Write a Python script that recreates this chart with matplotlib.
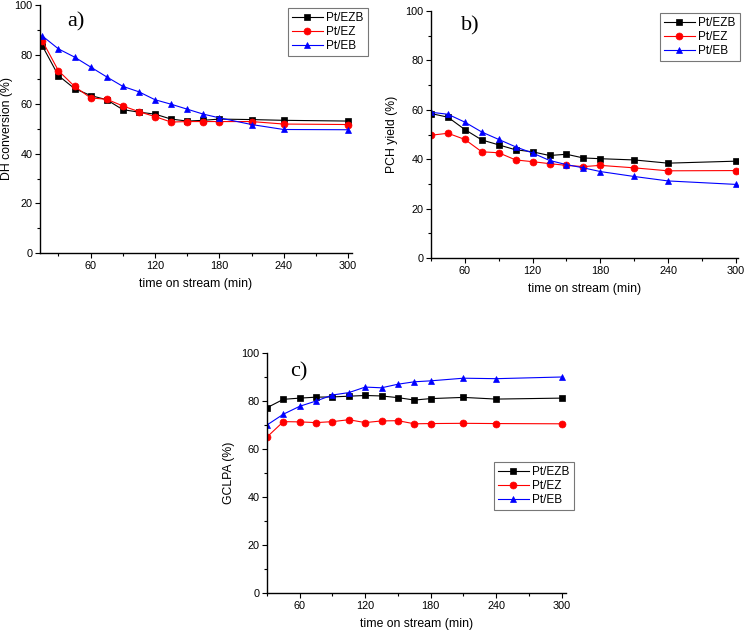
import matplotlib
matplotlib.use("Agg")
import matplotlib.pyplot as plt
from matplotlib.ticker import MultipleLocator

plt.rcParams['font.family'] = ['Liberation Sans', 'DejaVu Sans']

series_names = ["Pt/EZB", "Pt/EZ", "Pt/EB"]

# Panel a) DH conversion (%)
time_a = [15, 30, 45, 60, 75, 90, 105, 120, 135, 150, 165, 180, 210, 240, 300]
dh_ezb = [83.5, 71.5, 66.3, 63.5, 61.8, 57.8, 56.8, 56.0, 54.0, 53.2, 53.5, 54.0, 53.8, 53.5, 53.2]
dh_ez = [85.5, 73.5, 67.2, 62.5, 62.0, 59.3, 57.0, 55.0, 52.8, 53.0, 53.0, 53.0, 53.0, 52.0, 51.8]
dh_eb = [87.5, 82.3, 79.0, 75.0, 71.0, 67.2, 65.0, 61.8, 60.0, 58.0, 56.0, 54.5, 51.8, 49.8, 49.7]

# Panel b) PCH yield (%)
time_b = [30, 45, 60, 75, 90, 105, 120, 135, 150, 165, 180, 210, 240, 300]
pch_ezb = [58.5, 57.0, 52.0, 47.8, 45.8, 43.8, 43.0, 41.5, 42.0, 40.5, 40.2, 39.7, 38.4, 39.2]
pch_ez = [49.7, 50.5, 48.0, 43.0, 42.6, 39.7, 39.0, 38.2, 37.5, 37.0, 37.5, 36.5, 35.3, 35.4]
pch_eb = [59.0, 58.2, 55.0, 51.0, 48.0, 45.0, 42.5, 39.5, 37.8, 36.5, 35.0, 33.0, 31.2, 29.8]

# Panel c) GCLPA (%)
time_c = [30, 45, 60, 75, 90, 105, 120, 135, 150, 165, 180, 210, 240, 300]
gc_ezb = [77.2, 80.7, 81.2, 81.6, 81.7, 82.0, 82.3, 82.1, 81.4, 80.4, 81.0, 81.5, 80.8, 81.2]
gc_ez = [65.0, 71.4, 71.3, 71.0, 71.4, 72.2, 71.0, 71.7, 71.8, 70.5, 70.6, 70.7, 70.6, 70.5]
gc_eb = [70.0, 74.5, 77.8, 80.0, 82.5, 83.5, 85.8, 85.5, 87.0, 88.0, 88.4, 89.5, 89.3, 90.0]

colors = ["black", "#ff0000", "#0000ff"]
markers = ["s", "o", "^"]

W, H = 746, 630
fig = plt.figure(figsize=(W / 100, H / 100), dpi=100)


def px_axes(left, top, right, bottom):
    return fig.add_axes([left / W, 1 - bottom / H, (right - left) / W, (bottom - top) / H])


def style(ax, xlim, ylabel, ylab_x):
    ax.set_xlim(*xlim)
    ax.set_ylim(0, 100)
    ax.xaxis.set_major_locator(MultipleLocator(60))
    ax.xaxis.set_minor_locator(MultipleLocator(30))
    ax.yaxis.set_major_locator(MultipleLocator(20))
    ax.yaxis.set_minor_locator(MultipleLocator(10))
    for s in ["top", "right"]:
        ax.spines[s].set_visible(False)
    for s in ["left", "bottom"]:
        ax.spines[s].set_linewidth(1.0)
    ax.tick_params(which="major", direction="out", length=3.5, width=0.8, labelsize=7.8, pad=2)
    ax.tick_params(which="minor", direction="out", length=2, width=0.8)
    ax.set_xlabel("time on stream (min)", fontsize=8.8, labelpad=5)
    ax.set_ylabel(ylabel, fontsize=8.8)
    ax.yaxis.set_label_coords(ylab_x, 0.5)


def draw(ax, x, ys):
    for y, c, m, n in zip(ys, colors, markers, series_names):
        ax.plot(x, y, color=c, marker=m, markersize=5, linewidth=0.8, label=n,
                markeredgewidth=0.5)


def legend(ax, x, y):
    leg = ax.legend(loc="upper left", bbox_to_anchor=(x / W, 1 - y / H),
                    bbox_transform=fig.transFigure, fontsize=8.5, frameon=True,
                    fancybox=False, edgecolor="#555555", borderpad=0.35,
                    labelspacing=0.15, handlelength=2.6, handletextpad=0.3,
                    borderaxespad=0)
    leg.get_frame().set_linewidth(0.8)


ax_a = px_axes(40, 5, 352, 253)
draw(ax_a, time_a, [dh_ezb, dh_ez, dh_eb])
style(ax_a, (12.8, 303.7), "DH conversion (%)", (13 - 40) / 312)
legend(ax_a, 288, 8)

ax_b = px_axes(431, 11, 738, 258)
draw(ax_b, time_b, [pch_ezb, pch_ez, pch_eb])
style(ax_b, (30, 302), "PCH yield (%)", (398 - 431) / 307)
legend(ax_b, 660, 13)

ax_c = px_axes(267, 353, 566, 593)
draw(ax_c, time_c, [gc_ezb, gc_ez, gc_eb])
style(ax_c, (30, 304), "GCLPA (%)", (235 - 267) / 299)
legend(ax_c, 494, 462)

serif = ["Liberation Serif", "DejaVu Serif"]
fig.text(67 / W, 1 - 22 / H, "a)", fontsize=16, family=serif, va="center", ha="left")
fig.text(461 / W, 1 - 26 / H, "b)", fontsize=16, family=serif, va="center", ha="left")
fig.text(290 / W, 1 - 372 / H, "c)", fontsize=16, family=serif, va="center", ha="left")

fig.savefig("out.png", dpi=100)
